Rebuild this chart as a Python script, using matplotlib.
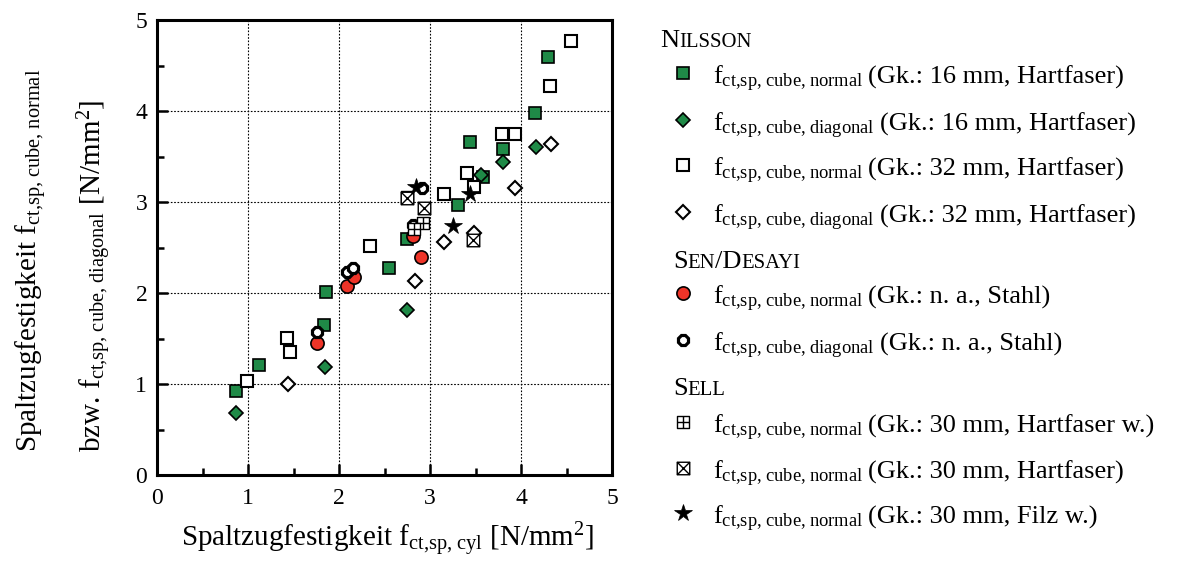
import matplotlib
matplotlib.use("Agg")
import matplotlib.pyplot as plt
from matplotlib.path import Path
from matplotlib.lines import Line2D

plt.rcParams['font.family'] = ['Liberation Serif', 'DejaVu Serif']
plt.rcParams['mathtext.fontset'] = 'custom'
plt.rcParams['mathtext.rm'] = 'Liberation Serif'
plt.rcParams['mathtext.it'] = 'Liberation Serif:italic'

GREEN = '#1f8a47'
RED = '#ee3428'

# Nilsson, 16 mm, normal / diagonal
nil16_norm_x = [0.87, 1.12, 1.84, 1.86, 2.55, 2.75, 3.31, 3.44, 3.58, 3.80, 4.15, 4.30]
nil16_norm_y = [0.92, 1.21, 1.65, 2.01, 2.27, 2.59, 2.97, 3.66, 3.28, 3.58, 3.98, 4.59]
nil16_diag_x = [0.87, 1.85, 2.75, 3.56, 3.80, 4.16]
nil16_diag_y = [0.68, 1.19, 1.81, 3.30, 3.44, 3.60]
# Nilsson, 32 mm, normal / diagonal
nil32_norm_x = [0.99, 1.43, 1.46, 2.34, 3.15, 3.41, 3.48, 3.79, 3.93, 4.32, 4.55]
nil32_norm_y = [1.03, 1.51, 1.35, 2.52, 3.09, 3.32, 3.16, 3.75, 3.75, 4.27, 4.77]
nil32_diag_x = [1.44, 2.84, 3.15, 3.48, 3.93, 4.33]
nil32_diag_y = [1.00, 2.13, 2.56, 2.66, 3.15, 3.64]
# Sen/Desayi
sen_norm_x = [1.76, 2.09, 2.16, 2.81, 2.90]
sen_norm_y = [1.45, 2.08, 2.18, 2.63, 2.40]
sen_diag_x = [1.76, 2.09, 2.15, 2.81, 2.91]
sen_diag_y = [1.57, 2.23, 2.28, 2.75, 3.15]
# Sell
sell_hfw_x = [2.75, 2.92, 2.82]
sell_hfw_y = [3.05, 2.77, 2.70]
sell_hf_x = [2.75, 2.93, 3.47]
sell_hf_y = [3.04, 2.93, 2.58]
sell_filz_x = [2.85, 3.25, 3.44]
sell_filz_y = [3.16, 2.74, 3.09]

M, L, C = Path.MOVETO, Path.LINETO, Path.CLOSEPOLY
box_plus = Path([(-1, -1), (1, -1), (1, 1), (-1, 1), (-1, -1), (0, -1), (0, 1), (-1, 0), (1, 0)],
                [M, L, L, L, C, M, L, M, L])
box_cross = Path([(-1, -1), (1, -1), (1, 1), (-1, 1), (-1, -1), (-1, -1), (1, 1), (-1, 1), (1, -1)],
                 [M, L, L, L, C, M, L, M, L])

styles = [
    dict(marker='s', ms=8.5, mfc=GREEN, mec='black', mew=1.2),
    dict(marker='D', ms=7.2, mfc=GREEN, mec='black', mew=1.2),
    dict(marker='s', ms=8.5, mfc='white', mec='black', mew=1.5),
    dict(marker='D', ms=7.2, mfc='white', mec='black', mew=1.5),
    dict(marker='o', ms=9.5, mfc=RED, mec='black', mew=1.2),
    dict(marker='8', ms=7.8, mfc='white', mec='black', mew=2.3),
    dict(marker=box_plus, ms=9.0, mfc='white', mec='black', mew=1.0),
    dict(marker=box_cross, ms=9.0, mfc='white', mec='black', mew=1.0),
    dict(marker='*', ms=13, mfc='black', mec='black', mew=0.5),
]
series = [
    (nil16_norm_x, nil16_norm_y), (nil16_diag_x, nil16_diag_y),
    (nil32_norm_x, nil32_norm_y), (nil32_diag_x, nil32_diag_y),
    (sen_norm_x, sen_norm_y), (sen_diag_x, sen_diag_y),
    (sell_hfw_x, sell_hfw_y), (sell_hf_x, sell_hf_y), (sell_filz_x, sell_filz_y),
]

W, H = 1186, 563
fig = plt.figure(figsize=(W / 100, H / 100), dpi=100)
ax = fig.add_axes([157 / W, 88 / H, 455 / W, 455 / H])

for (xs, ys), st in zip(series, styles):
    ax.plot(xs, ys, linestyle='none', **st)

ax.set_xlim(0, 5)
ax.set_ylim(0, 5)
ax.set_xticks(range(6))
ax.set_yticks(range(6))
ax.set_xticks([0.5, 1.5, 2.5, 3.5, 4.5], minor=True)
ax.set_yticks([0.5, 1.5, 2.5, 3.5, 4.5], minor=True)
ax.tick_params(which='both', direction='in', top=False, right=False, labelsize=17, width=1.8)
ax.tick_params(which='major', length=8)
ax.tick_params(which='minor', length=5)
ax.tick_params(axis='x', pad=9)
ax.tick_params(axis='y', pad=7)
ax.grid(which='major', color='black', linestyle=(0, (1.5, 1.5)), linewidth=0.8)
for sp in ax.spines.values():
    sp.set_linewidth(2.2)


def fy(y):
    return 1 - y / H


sub_n = r'$\mathrm{f}_{\mathrm{ct{,}sp{,}\ cube{,}\ normal}}$'
sub_d = r'$\mathrm{f}_{\mathrm{ct{,}sp{,}\ cube{,}\ diagonal}}$'

fig.text(388 / W, fy(547), r'Spaltzugfestigkeit $\mathrm{f}_{\mathrm{ct{,}sp{,}\ cyl}}$ [N/mm$^2$]',
         fontsize=21, ha='center', va='baseline')
fig.text(32 / W, fy(452), 'Spaltzugfestigkeit ' + sub_n,
         fontsize=21, rotation=90, ha='center', va='bottom')
fig.text(95 / W, fy(452), 'bzw. ' + sub_d + ' [N/mm$^2$]',
         fontsize=21, rotation=90, ha='center', va='bottom')

# legend
headers = [(660, 47, [('N', 1), ('ILSSON', 0.78)]),
           (673, 268, [('S', 1), ('EN', 0.78), ('/D', 1), ('ESAYI', 0.78)]),
           (673, 395, [('S', 1), ('ELL', 0.78)])]
leg_y = [73, 120, 165, 212, 293, 340, 422, 468, 513]
leg_sub = [sub_n, sub_d, sub_n, sub_d, sub_n, sub_d, sub_n, sub_n, sub_n]
leg_desc = ['(Gk.: 16 mm, Hartfaser)', '(Gk.: 16 mm, Hartfaser)',
            '(Gk.: 32 mm, Hartfaser)', '(Gk.: 32 mm, Hartfaser)',
            '(Gk.: n. a., Stahl)', '(Gk.: n. a., Stahl)',
            '(Gk.: 30 mm, Hartfaser w.)', '(Gk.: 30 mm, Hartfaser)',
            '(Gk.: 30 mm, Filz w.)']
LFS = 19

renderer = fig.canvas.get_renderer()

# small caps headers
for x0, yb, parts in headers:
    x = x0
    for txt, scale in parts:
        t = fig.text(x / W, fy(yb), txt, fontsize=LFS * scale, va='baseline', ha='left')
        x = t.get_window_extent(renderer).x1

for st, y, s, d in zip(styles, leg_y, leg_sub, leg_desc):
    fig.add_artist(Line2D([683 / W], [fy(y)], linestyle='none', **st))
    t = fig.text(713 / W, fy(y + 11), s, fontsize=LFS, va='baseline', ha='left')
    x1 = t.get_window_extent(renderer).x1
    fig.text(max(860, x1 + 5) / W, fy(y + 11), d, fontsize=LFS, va='baseline', ha='left')

fig.savefig('out.png', dpi=100)
